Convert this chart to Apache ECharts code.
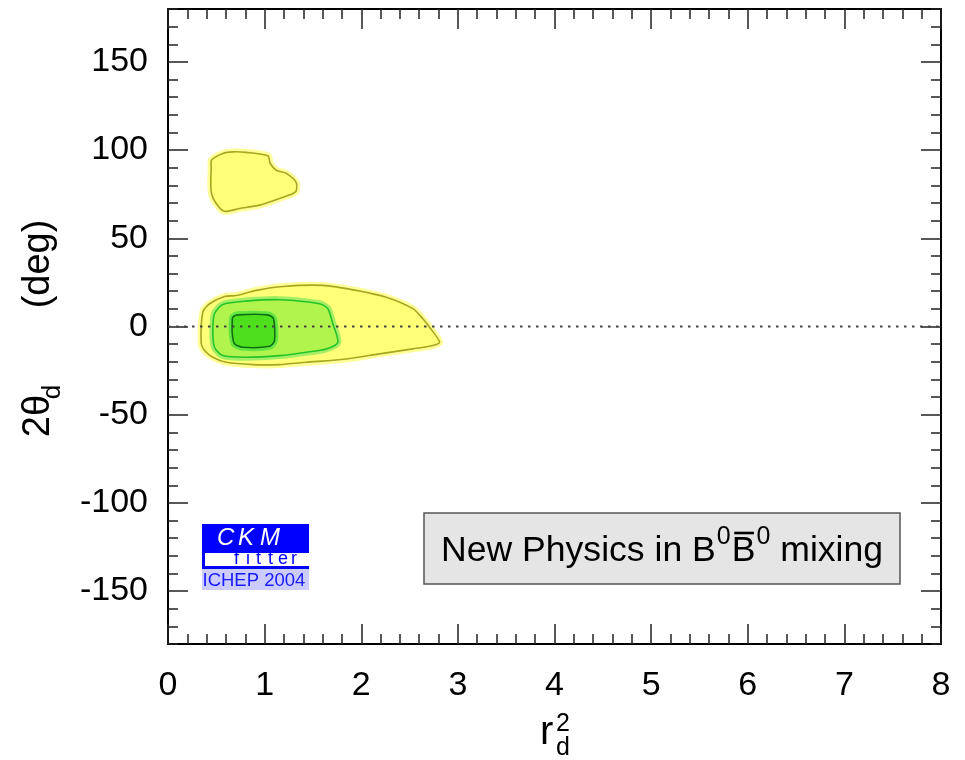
<!DOCTYPE html>
<html>
<head>
<meta charset="utf-8">
<script src="https://cdn.jsdelivr.net/npm/echarts@6/dist/echarts.min.js"></script>
<style>
html,body{margin:0;padding:0;background:#fff;}
#chart{width:965px;height:760px;}
</style>
</head>
<body>
<div id="chart"></div>
<script>
// ---- tick labels ----
const xTickValues = [0, 1, 2, 3, 4, 5, 6, 7, 8];
const yTickLabels = [-150, -100, -50, 0, 50, 100, 150];

// ---- contour regions (r_d^2, 2theta_d in degrees) ----
// 95% CL region, lower (yellow)
const outerX = [0.344,0.360,0.430,0.585,0.706,0.913,1.188,1.602,1.948,2.259,2.534,2.638,2.707,2.811,2.741,2.534,2.189,1.845,1.431,1.154,0.878,0.602,0.464,0.378];
const outerY = [-9.8,8.1,12.9,17.0,17.6,20.5,22.7,23.3,20.5,16.6,10.1,4.4,-0.4,-8.9,-10.8,-12.7,-15.5,-18.4,-20.3,-21.6,-21.6,-20.3,-17.4,-13.6];
// 95% CL region, upper island (yellow)
const islandX = [0.447,0.450,0.567,0.671,0.810,1.033,1.058,1.120,1.224,1.327,1.320,1.154,0.947,0.740,0.585,0.499,0.447];
const islandY = [90.5,94.3,98.1,99.0,98.7,96.8,92.4,88.6,86.8,81.6,76.3,72.6,68.8,66.9,65.3,69.7,76.3];
// middle region (light green)
const midX = [0.464,0.481,0.567,0.810,1.154,1.568,1.654,1.706,1.758,1.638,1.431,1.154,0.810,0.567,0.481];
const midY = [-2.3,7.2,12.5,14.4,15.2,12.9,10.1,1.5,-8.9,-12.7,-14.6,-16.5,-17.4,-16.5,-11.8];
// inner region (dark green)
const innerX = [0.665,0.671,0.723,1.033,1.092,1.102,1.051,0.774,0.688,0.665];
const innerY = [3.4,5.3,6.6,6.6,4.4,-8.0,-11.2,-11.8,-9.8,-4.1];
// reference line 2theta_d = 0
const zeroLineX = [0, 8];
const zeroLineY = [0, 0];

const FONT = '"Liberation Sans", Arial, Helvetica, sans-serif';

function zip(xs, ys) { return xs.map((x, i) => [x, ys[i]]); }

const regions = [
  { pts: zip(outerX, outerY), fill: '#ffff78', halo: '#ffff9a', line: '#a6a620' },
  { pts: zip(midX, midY), fill: '#b2f44e', halo: '#a6ee66', line: '#22c42a' },
  { pts: zip(innerX, innerY), fill: '#4ee01c', halo: '#62e640', line: '#0f6f12' },
  { pts: zip(islandX, islandY), fill: '#ffff78', halo: '#ffff9a', line: '#a6a620' }
];

const chart = echarts.init(document.getElementById('chart'), null, { renderer: 'canvas' });

const regionSeries = regions.map((r, k) => ({
  type: 'custom',
  coordinateSystem: 'cartesian2d',
  xAxisIndex: 0,
  yAxisIndex: 0,
  z: 2 + k,
  silent: true,
  data: r.pts,
  encode: { x: 0, y: 1 },
  renderItem: function (params, api) {
    if (params.dataIndex !== 0) return null;
    const pts = r.pts.map(p => api.coord(p));
    return {
      type: 'group',
      children: [
        { type: 'polygon', shape: { points: pts, smooth: 0.25 }, style: { fill: 'none', stroke: r.halo, lineWidth: 7, lineJoin: 'round' } },
        { type: 'polygon', shape: { points: pts, smooth: 0.25 }, style: { fill: r.fill, stroke: r.line, lineWidth: 1.6, lineJoin: 'round' } }
      ]
    };
  }
}));

const tickColor = '#222';
const baseY = {
  type: 'value', min: -180, max: 180, splitLine: { show: false }
};

const ctx = document.createElement('canvas').getContext('2d');
function measure(text, size, style) {
  ctx.font = (style ? style + ' ' : '') + size + 'px ' + FONT;
  return ctx.measureText(text).width;
}

// text box pieces layout
const tbSize = 35.6, tbSup = 25;
const tbX0 = 441, tbY = 551, tbSupY = 537.5;
const w1 = measure('New Physics in B', tbSize);
const wS = measure('0', tbSup);
const wB = measure('B', tbSize);
const sup1X = tbX0 + w1 + 1;
const bX = sup1X + wS + 1;
const sup2X = bX + wB + 1;
const mixX = sup2X + wS;

const graphics = [
  // Text box
  { type: 'rect', shape: { x: 424, y: 513, width: 476, height: 71 }, style: { fill: '#e5e5e5', stroke: '#555', lineWidth: 1.5 }, z: 10 },
  { type: 'text', x: tbX0, y: tbY, style: { text: 'New Physics in B', fontSize: tbSize, fontFamily: FONT, fill: '#000', align: 'left', verticalAlign: 'middle' }, z: 11 },
  { type: 'text', x: sup1X, y: tbSupY, style: { text: '0', fontSize: tbSup, fontFamily: FONT, fill: '#000', align: 'left', verticalAlign: 'middle' }, z: 11 },
  { type: 'text', x: bX, y: tbY, style: { text: 'B', fontSize: tbSize, fontFamily: FONT, fill: '#000', align: 'left', verticalAlign: 'middle' }, z: 11 },
  { type: 'line', shape: { x1: bX + 2.5, y1: 533, x2: bX + wB - 1.5, y2: 533 }, style: { stroke: '#000', lineWidth: 2.6 }, z: 11 },
  { type: 'text', x: sup2X, y: tbSupY, style: { text: '0', fontSize: tbSup, fontFamily: FONT, fill: '#000', align: 'left', verticalAlign: 'middle' }, z: 11 },
  { type: 'text', x: mixX, y: tbY, style: { text: ' mixing', fontSize: tbSize, fontFamily: FONT, fill: '#000', align: 'left', verticalAlign: 'middle' }, z: 11 },

  // CKMfitter logo
  { type: 'rect', shape: { x: 202, y: 524, width: 107, height: 29 }, style: { fill: '#0000ff' }, z: 10 },
  { type: 'rect', shape: { x: 202, y: 553, width: 3, height: 13 }, style: { fill: '#0000ff' }, z: 10 },
  { type: 'rect', shape: { x: 202, y: 566, width: 107, height: 3 }, style: { fill: '#0000ff' }, z: 10 },
  { type: 'rect', shape: { x: 202, y: 569, width: 107, height: 21 }, style: { fill: '#ccccff' }, z: 10 },
  { type: 'text', x: 217, y: 538, style: { text: 'C', fontSize: 24, fontStyle: 'italic', fontFamily: FONT, fill: '#fff', align: 'left', verticalAlign: 'middle' }, z: 11 },
  { type: 'text', x: 238, y: 538, style: { text: 'K', fontSize: 24, fontStyle: 'italic', fontFamily: FONT, fill: '#fff', align: 'left', verticalAlign: 'middle' }, z: 11 },
  { type: 'text', x: 260, y: 538, style: { text: 'M', fontSize: 24, fontStyle: 'italic', fontFamily: FONT, fill: '#fff', align: 'left', verticalAlign: 'middle' }, z: 11 },
  ...[['f', 234], ['i', 246], ['t', 256], ['t', 268], ['e', 278], ['r', 291]].map(([ch, x]) => (
    { type: 'text', x: x, y: 559, style: { text: ch, fontSize: 18, fontFamily: FONT, fill: '#0000ff', align: 'left', verticalAlign: 'middle' }, z: 11 }
  )),
  { type: 'text', x: 202.5, y: 581, style: { text: 'ICHEP 2004', fontSize: 18.5, fontFamily: FONT, fill: '#1a1aff', align: 'left', verticalAlign: 'middle' }, z: 11 },

  // x-axis title r_d^2
  { type: 'text', x: 540, y: 733, style: { text: 'r', fontSize: 40, fontFamily: FONT, fill: '#000', align: 'left', verticalAlign: 'middle' }, z: 11 },
  { type: 'text', x: 556, y: 724, style: { text: '2', fontSize: 25, fontFamily: FONT, fill: '#000', align: 'left', verticalAlign: 'middle' }, z: 11 },
  { type: 'text', x: 556, y: 748, style: { text: 'd', fontSize: 25, fontFamily: FONT, fill: '#000', align: 'left', verticalAlign: 'middle' }, z: 11 },

  // y-axis title 2θ_d (deg)
  { type: 'text', x: 39, y: 416, rotation: Math.PI / 2, style: { text: '2θ', fontSize: 38, fontFamily: FONT, fill: '#000', align: 'center', verticalAlign: 'middle' }, z: 11 },
  { type: 'text', x: 53, y: 392, rotation: Math.PI / 2, style: { text: 'd', fontSize: 26, fontFamily: FONT, fill: '#000', align: 'center', verticalAlign: 'middle' }, z: 11 },
  { type: 'text', x: 39, y: 264, rotation: Math.PI / 2, style: { text: '(deg)', fontSize: 38, fontFamily: FONT, fill: '#000', align: 'center', verticalAlign: 'middle' }, z: 11 }
];

const option = {
  animation: false,
  backgroundColor: '#ffffff',
  grid: { left: 168, right: 24, top: 9, bottom: 116, containLabel: false },
  xAxis: [
    {
      type: 'value', position: 'bottom', min: 0, max: 8, interval: 1,
      axisLine: { show: true, onZero: false, lineStyle: { color: '#000', width: 2 } },
      axisTick: { show: true, inside: true, length: 20, lineStyle: { color: tickColor, width: 1.5 } },
      minorTick: { show: true, splitNumber: 5, length: 10, lineStyle: { color: tickColor, width: 1.5 } },
      axisLabel: { show: true, fontSize: 34, fontFamily: FONT, color: '#000', margin: 25, formatter: v => xTickValues.includes(v) ? String(v) : '' },
      splitLine: { show: false }, minorSplitLine: { show: false }
    },
    {
      type: 'value', position: 'top', min: 0, max: 8, interval: 1,
      axisLine: { show: true, onZero: false, lineStyle: { color: '#000', width: 2 } },
      axisTick: { show: true, inside: true, length: 20, lineStyle: { color: tickColor, width: 1.5 } },
      minorTick: { show: true, splitNumber: 5, length: 10, lineStyle: { color: tickColor, width: 1.5 } },
      axisLabel: { show: false },
      splitLine: { show: false }
    }
  ],
  yAxis: [
    Object.assign({}, baseY, {
      position: 'left', interval: 10,
      axisLine: { show: true, onZero: false, lineStyle: { color: '#000', width: 2 } },
      axisTick: { show: true, inside: true, length: 10, lineStyle: { color: tickColor, width: 1.5 } },
      axisLabel: { show: true, customValues: yTickLabels, fontSize: 34, fontFamily: FONT, color: '#000', margin: 20 }
    }),
    Object.assign({}, baseY, {
      position: 'left',
      axisLine: { show: false, onZero: false },
      axisTick: { show: true, inside: true, length: 20, customValues: yTickLabels, lineStyle: { color: tickColor, width: 1.5 } },
      axisLabel: { show: false }
    }),
    Object.assign({}, baseY, {
      position: 'right', interval: 10,
      axisLine: { show: true, onZero: false, lineStyle: { color: '#000', width: 2 } },
      axisTick: { show: true, inside: true, length: 10, lineStyle: { color: tickColor, width: 1.5 } },
      axisLabel: { show: false }
    }),
    Object.assign({}, baseY, {
      position: 'right',
      axisLine: { show: false, onZero: false },
      axisTick: { show: true, inside: true, length: 20, customValues: yTickLabels, lineStyle: { color: tickColor, width: 1.5 } },
      axisLabel: { show: false }
    })
  ],
  series: regionSeries.concat([
    {
      type: 'line',
      xAxisIndex: 0, yAxisIndex: 0,
      data: zip(zeroLineX, zeroLineY),
      symbol: 'none',
      silent: true,
      z: 8,
      lineStyle: { color: '#444', width: 2, type: [2.5, 5.5] }
    }
  ]),
  graphic: graphics
};

chart.setOption(option);
</script>
</body>
</html>
